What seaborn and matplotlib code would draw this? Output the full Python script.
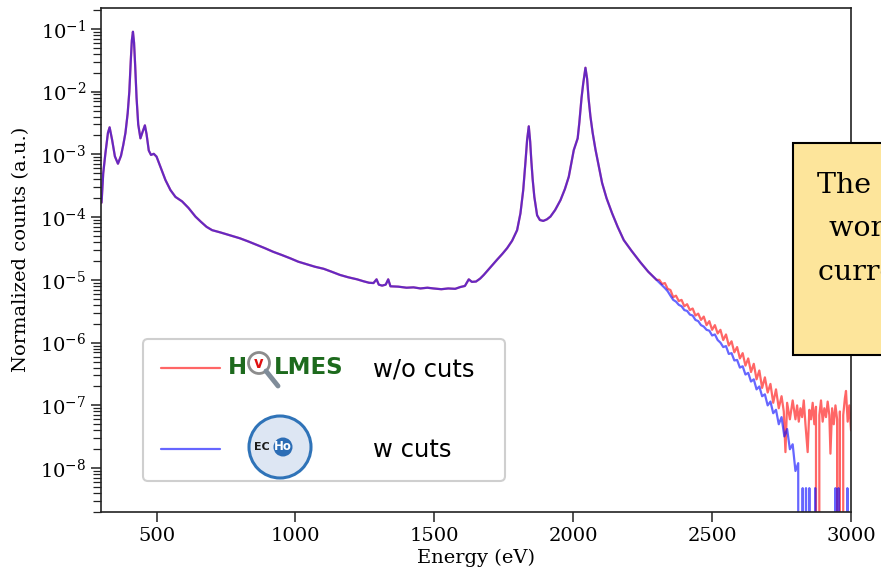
import numpy as np
import matplotlib
matplotlib.use("Agg")
import matplotlib.pyplot as plt
import seaborn as sns
from matplotlib.patches import Circle, Rectangle
from matplotlib.lines import Line2D
from matplotlib.ticker import LogLocator, NullFormatter

# ── Spectrum values ───────────────────────────────────────────────────
# shared part (both spectra lie on top of each other up to ~2300 eV)
energy_core = [302, 308, 316, 325, 331, 340, 350, 361, 372, 380, 388, 396, 402, 407,
               411, 415, 419, 423, 428, 434, 442, 450, 458, 464, 472, 480, 490, 500,
               514, 532, 550, 568, 592, 615, 640, 660, 680, 700, 730, 766, 800, 830,
               862, 890, 920, 950, 982, 1010, 1040, 1070, 1102, 1130, 1160, 1190, 1222,
               1245, 1265, 1281, 1292, 1300, 1312, 1325, 1334, 1342, 1370, 1400, 1425,
               1450, 1475, 1497, 1525, 1550, 1575, 1594, 1610, 1624, 1635, 1650, 1665,
               1678, 1700, 1726, 1745, 1762, 1780, 1798, 1810, 1820, 1828, 1834, 1840,
               1845, 1849, 1854, 1860, 1870, 1880, 1892, 1905, 1918, 1935, 1954, 1970,
               1984, 1995, 2002, 2010, 2016, 2022, 2030, 2036, 2044, 2050, 2055, 2062,
               2070, 2080, 2092, 2104, 2120, 2140, 2160, 2182, 2210, 2242, 2270, 2300]
counts_core = [1.7e-4, 5.0e-4, 1.05e-3, 2.2e-3, 2.7e-3, 1.7e-3, 9.3e-4, 7.1e-4, 9.5e-4,
               1.4e-3, 2.2e-3, 4.5e-3, 1.0e-2, 3.0e-2, 6.5e-2, 9.0e-2, 6.0e-2, 2.6e-2,
               8.0e-3, 3.0e-3, 1.8e-3, 2.3e-3, 2.9e-3, 2.1e-3, 1.15e-3, 9.8e-4, 1.02e-3,
               9.2e-4, 6.3e-4, 3.9e-4, 2.7e-4, 2.1e-4, 1.78e-4, 1.4e-4, 1.02e-4, 8.4e-5,
               7.0e-5, 6.2e-5, 5.7e-5, 5.1e-5, 4.6e-5, 4.1e-5, 3.6e-5, 3.2e-5, 2.8e-5,
               2.5e-5, 2.2e-5, 1.95e-5, 1.78e-5, 1.62e-5, 1.5e-5, 1.35e-5, 1.2e-5, 1.1e-5,
               1.02e-5, 9.5e-6, 9.0e-6, 8.9e-6, 1.02e-5, 8.4e-6, 8.1e-6, 8.4e-6, 1.02e-5,
               7.9e-6, 7.8e-6, 7.5e-6, 7.6e-6, 7.3e-6, 7.5e-6, 7.3e-6, 7.1e-6, 7.3e-6,
               7.2e-6, 7.7e-6, 8.0e-6, 1.02e-5, 9.3e-6, 9.4e-6, 1.05e-5, 1.2e-5, 1.55e-5,
               2.1e-5, 2.6e-5, 3.2e-5, 4.2e-5, 6.2e-5, 1.15e-4, 2.7e-4, 7.5e-4, 1.7e-3,
               2.8e-3, 1.6e-3, 8.1e-4, 4.0e-4, 2.1e-4, 1.07e-4, 9.0e-5, 8.7e-5, 9.2e-5,
               1.02e-4, 1.3e-4, 1.86e-4, 2.8e-4, 4.4e-4, 8.0e-4, 1.17e-3, 1.5e-3, 1.8e-3,
               3.2e-3, 8.0e-3, 1.35e-2, 2.4e-2, 1.6e-2, 8.0e-3, 4.0e-3, 2.2e-3, 1.2e-3,
               6.5e-4, 3.5e-4, 2.0e-4, 1.15e-4, 7.0e-5, 4.3e-5, 2.9e-5, 1.9e-5, 1.35e-5,
               1.0e-5]

# high-energy tail, without cuts
energy_tail_wo = [2310, 2320, 2330, 2340, 2350, 2360, 2370, 2380, 2390, 2400, 2410, 2420,
                  2430, 2440, 2450, 2460, 2470, 2480, 2490, 2500, 2510, 2520, 2530, 2540,
                  2550, 2560, 2570, 2580, 2590, 2600, 2610, 2620, 2630, 2640, 2650, 2660,
                  2670, 2680, 2690, 2700, 2710, 2720, 2730, 2740, 2750, 2758, 2764, 2770,
                  2780, 2790, 2800, 2806, 2812, 2818, 2824, 2830, 2836, 2844, 2850, 2856,
                  2862, 2868, 2874, 2880, 2886, 2892, 2898, 2904, 2910, 2916, 2922, 2926,
                  2932, 2938, 2944, 2950, 2956, 2960, 2966, 2972, 2978, 2982, 2988, 2994,
                  3000]
counts_tail_wo = [1.0e-5, 8.6e-6, 8.9e-6, 7.2e-6, 6.9e-6, 5.3e-6, 5.6e-6, 4.6e-6, 4.8e-6,
                  3.8e-6, 4.1e-6, 3.3e-6, 3.5e-6, 2.7e-6, 2.9e-6, 2.3e-6, 2.6e-6, 1.9e-6,
                  2.2e-6, 1.6e-6, 1.9e-6, 1.4e-6, 1.6e-6, 1.1e-6, 1.35e-6, 9.0e-7, 1.05e-6,
                  7.0e-7, 8.5e-7, 5.6e-7, 6.8e-7, 4.3e-7, 5.6e-7, 3.4e-7, 4.6e-7, 2.6e-7,
                  3.6e-7, 1.9e-7, 2.8e-7, 1.6e-7, 2.2e-7, 1.1e-7, 1.8e-7, 9.0e-8, 1.4e-7,
                  8.0e-8, 1.8e-8, 1.1e-7, 6.0e-8, 1.2e-7, 6.0e-8, 1.0e-7, 5.5e-8, 9.0e-8,
                  6.5e-8, 1.2e-7, 5.0e-8, 1.8e-8, 8.5e-8, 6.0e-8, 1.1e-7, 5.0e-8, 9.5e-8,
                  0.0, 7.0e-8, 1.2e-7, 5.5e-8, 9.0e-8, 6.5e-8, 1.15e-7, 7.0e-8, 1.7e-8,
                  9.0e-8, 5.0e-8, 1.0e-7, 6.0e-8, 0.0, 8.0e-8, 0.0, 7.0e-8, 1.3e-7, 1.7e-7,
                  5.5e-8, 1.0e-7, 4.0e-8]

# high-energy tail, with cuts
energy_tail_w = [2310, 2320, 2330, 2340, 2350, 2360, 2370, 2380, 2390, 2400, 2410, 2420,
                 2430, 2440, 2450, 2460, 2470, 2480, 2490, 2500, 2510, 2520, 2530, 2540,
                 2550, 2560, 2570, 2580, 2590, 2600, 2610, 2620, 2630, 2640, 2650, 2660,
                 2670, 2680, 2690, 2700, 2710, 2720, 2730, 2740, 2750, 2760, 2770, 2780,
                 2790, 2800, 2810, 2818, 2826, 2832, 2838, 2844, 2850, 2856, 2866, 2871,
                 2876, 2900, 2940, 2944, 2949, 2955, 2960, 2982, 2987, 2992, 3000]
counts_tail_w = [9.0e-6, 8.2e-6, 7.4e-6, 6.6e-6, 5.6e-6, 4.8e-6, 4.5e-6, 4.0e-6, 3.8e-6,
                 3.3e-6, 3.2e-6, 2.8e-6, 2.7e-6, 2.3e-6, 2.2e-6, 1.9e-6, 1.8e-6, 1.6e-6,
                 1.55e-6, 1.3e-6, 1.35e-6, 1.1e-6, 1.0e-6, 8.5e-7, 8.8e-7, 6.6e-7, 6.8e-7,
                 5.2e-7, 5.3e-7, 4.0e-7, 4.2e-7, 3.1e-7, 3.3e-7, 2.4e-7, 2.6e-7, 1.8e-7,
                 2.0e-7, 1.4e-7, 1.5e-7, 1.0e-7, 1.15e-7, 7.5e-8, 8.5e-8, 5.0e-8, 6.5e-8,
                 3.2e-8, 4.2e-8, 2.0e-8, 2.4e-8, 9.0e-9, 1.2e-8, 0.0, 4.8e-9, 0.0, 4.8e-9,
                 0.0, 4.8e-9, 0.0, 0.0, 4.8e-9, 0.0, 0.0, 0.0, 4.8e-9, 0.0, 4.8e-9, 0.0,
                 0.0, 4.8e-9, 0.0, 0.0]

series_labels = ["w/o cuts", "w cuts"]
series_colors = ["red", "blue"]
x_ticks = [500, 1000, 1500, 2000, 2500, 3000]
y_ticks = [1e-8, 1e-7, 1e-6, 1e-5, 1e-4, 1e-3, 1e-2, 1e-1]
note_lines = ["The present", "work is the", "current status"]

# ── Figure ───────────────────────────────────────────────────────────
sns.set_style("ticks")
plt.rcParams["font.family"] = ["DejaVu Serif"]
plt.rcParams["mathtext.fontset"] = "dejavuserif"
plt.rcParams.update({"text.color": "black", "axes.labelcolor": "black",
                     "xtick.color": "black", "ytick.color": "black"})

W, H, DPI = 881, 572, 100
fig = plt.figure(figsize=(W / DPI, H / DPI), dpi=DPI)
ax = fig.add_axes([101 / W, 60 / H, 750 / W, 504 / H])
ax.set_yscale("log")

spectra = [
    (energy_core + energy_tail_wo, counts_core + counts_tail_wo),
    (energy_core + energy_tail_w, counts_core + counts_tail_w),
]
for (e, c), lab, col in zip(spectra, series_labels, series_colors):
    sns.lineplot(x=np.array(e, float), y=np.array(c, float), ax=ax, color=col,
                 alpha=0.6, lw=1.6, label=lab, estimator=None, sort=False)

ax.set_xlim(300, 3000)
ax.set_ylim(2.0e-9, 0.215)
ax.set_xticks(x_ticks)
ax.set_yticks(y_ticks)
ax.yaxis.set_minor_locator(LogLocator(base=10, subs=np.arange(2, 10), numticks=100))
ax.yaxis.set_minor_formatter(NullFormatter())
ax.tick_params(axis="both", which="major", direction="out", length=7, width=1.1,
               labelsize=14, color="#222222")
ax.tick_params(axis="y", which="minor", direction="out", length=6, width=0.9,
               color="#222222")
for sp in ax.spines.values():
    sp.set_linewidth(1.2)
    sp.set_color("#222222")

ax.set_xlabel("Energy (eV)", fontsize=14)
ax.set_ylabel("Normalized counts (a.u.)", fontsize=14)
ax.xaxis.set_label_coords(0.5, -0.072)
ax.yaxis.set_label_coords(-0.095, 0.522)

leg = ax.legend(loc="lower left", bbox_to_anchor=(0.056, 0.0625, 0.4827, 0.2),
                mode="expand", borderaxespad=0, prop={"family": "DejaVu Sans", "size": 17.5},
                handlelength=2.4, handletextpad=6.3, labelspacing=2.35, borderpad=0.75,
                frameon=True, fancybox=True, edgecolor="#cfcfcf", framealpha=1)
leg.get_frame().set_linewidth(1.5)

# ── Logos inside the legend (drawn in figure pixels) ─────────────────
tr = fig.dpi_scale_trans


def px(x, y):
    return (x / DPI, (H - y) / DPI)


green = "#1d6a1d"
fig.text(*px(228, 374), "H", transform=tr, family="DejaVu Sans", weight="bold",
         fontsize=16.5, color=green, ha="left", va="baseline")
fig.text(*px(274, 374), "LMES", transform=tr, family="DejaVu Sans", weight="bold",
         fontsize=16.5, color=green, ha="left", va="baseline")
fig.add_artist(Line2D([px(266, 371)[0], px(278, 386)[0]], [px(266, 371)[1], px(278, 386)[1]],
                      transform=tr, color="#7f8c99", lw=3.5, solid_capstyle="round"))
fig.patches.append(Circle(px(259, 363), 10.5 / DPI, transform=tr, fc="white",
                          ec="#8c8c8c", lw=2, figure=fig))
fig.text(*px(259, 364), "v", transform=tr, family="DejaVu Sans", weight="bold",
         fontsize=10.5, color="#e01010", ha="center", va="center")

fig.patches.append(Circle(px(280, 447), 31 / DPI, transform=tr, fc="#dde6f3",
                          ec="#2f73b8", lw=2.2, figure=fig))
fig.patches.append(Circle(px(283, 447), 9.5 / DPI, transform=tr, fc="#2c6db5",
                          ec="none", figure=fig))
fig.text(*px(262, 447), "EC", transform=tr, family="DejaVu Sans", weight="bold",
         fontsize=8, color="#1a1a1a", ha="center", va="center")
fig.text(*px(283, 447), "Ho", transform=tr, family="DejaVu Sans", weight="bold",
         fontsize=8.5, color="white", ha="center", va="center")

# ── Note box, cut off by the right edge as in the source slide ───────
fig.patches.append(Rectangle(px(793, 355), 1.5, (355 - 143) / DPI, transform=tr,
                             fc="#fde59b", ec="black", lw=1.5, figure=fig))
for line, (lx, ly) in zip(note_lines, [(817, 193), (829, 236), (818, 280)]):
    fig.text(*px(lx, ly), line, transform=tr, fontsize=20.5, color="black",
             ha="left", va="baseline")

fig.savefig("out.png", dpi=DPI)
